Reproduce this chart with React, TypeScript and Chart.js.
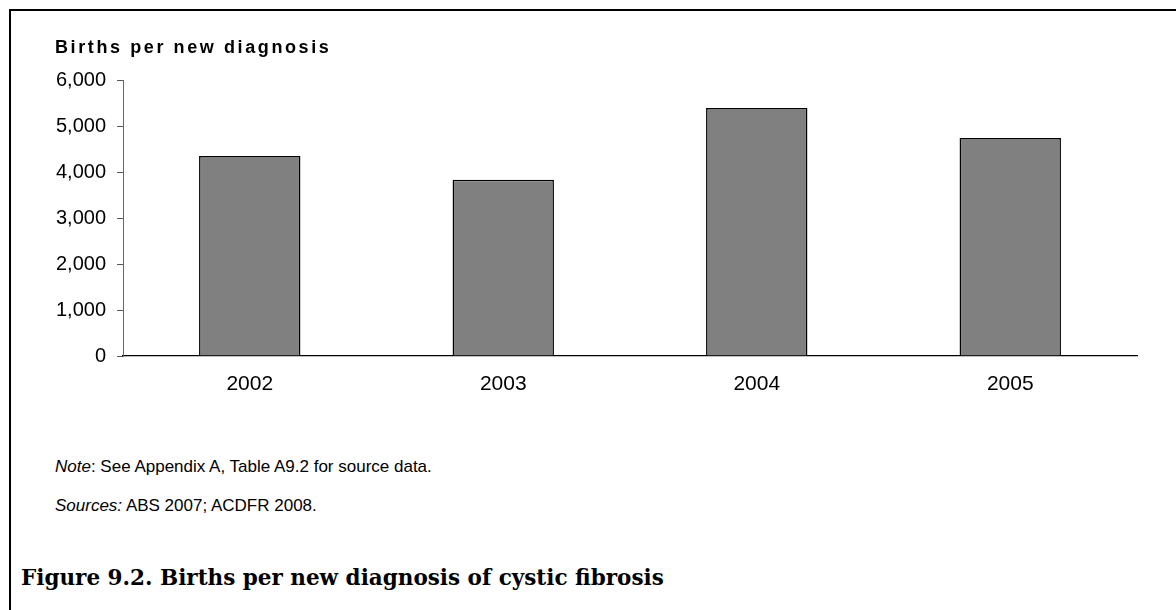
import React, { useEffect, useRef } from "react";
import { Chart, registerables } from "chart.js";

Chart.register(...registerables);

const categories: string[] = ["2002", "2003", "2004", "2005"];
const birthsPerDiagnosis: number[] = [4350, 3830, 5390, 4740];
const yMin = 0;
const yMax = 6000;
const yStep = 1000;

const yTitle = "Births per new diagnosis";
const noteLabel = "Note";
const noteText = ": See Appendix A, Table A9.2 for source data.";
const sourcesLabel = "Sources:";
const sourcesText = " ABS 2007; ACDFR 2008.";
const caption = "Figure 9.2. Births per new diagnosis of cystic fibrosis";

const W = 1176;
const H = 610;
const CANVAS_H = 420;

export default function App() {
  const ref = useRef<HTMLCanvasElement | null>(null);

  useEffect(() => {
    const prevMargin = document.body.style.margin;
    document.body.style.margin = "0";
    if (!ref.current) return;
    const chart = new Chart(ref.current, {
      type: "bar",
      data: {
        labels: categories,
        datasets: [
          {
            data: birthsPerDiagnosis,
            backgroundColor: "#808080",
            borderColor: "#000000",
            borderWidth: 1.5,
            barPercentage: 0.4,
            categoryPercentage: 1.0,
          },
        ],
      },
      options: {
        responsive: false,
        animation: false,
        devicePixelRatio: 1,
        layout: { padding: { left: 0, right: 39, top: 80, bottom: 0 } },
        plugins: {
          legend: { display: false },
          title: { display: false },
          tooltip: { enabled: false },
        },
        scales: {
          x: {
            grid: { display: false, drawTicks: false },
            border: { display: true, color: "#000000", width: 1.2 },
            ticks: {
              color: "#000000",
              padding: 16,
              font: { family: "'Liberation Sans', Arial, sans-serif", size: 21 },
            },
            afterFit: (scale: any) => {
              scale.height = 64;
            },
          },
          y: {
            min: yMin,
            max: yMax,
            grid: {
              display: true,
              drawOnChartArea: false,
              drawTicks: true,
              tickLength: 6,
              color: "#555555",
            },
            border: { display: true, color: "#666666", width: 1 },
            ticks: {
              stepSize: yStep,
              color: "#000000",
              padding: 11,
              font: { family: "'Liberation Sans', Arial, sans-serif", size: 20 },
              callback: (v: any) => Number(v).toLocaleString("en-US"),
            },
            afterFit: (scale: any) => {
              scale.width = 123;
            },
          },
        },
      },
    });
    return () => {
      chart.destroy();
      document.body.style.margin = prevMargin;
    };
  }, []);

  const sans = "'Liberation Sans', Arial, sans-serif";

  return (
    <div
      style={{
        position: "fixed",
        left: 0,
        top: 0,
        width: W,
        height: H,
        overflow: "hidden",
        background: "#ffffff",
      }}
    >
      <div
        style={{
          position: "absolute",
          left: 9,
          top: 9,
          width: W - 9,
          height: 2,
          background: "#000",
        }}
      />
      <div
        style={{
          position: "absolute",
          left: 9,
          top: 9,
          width: 2,
          height: H - 9,
          background: "#000",
        }}
      />
      <canvas
        ref={ref}
        width={W}
        height={CANVAS_H}
        style={{ position: "absolute", left: 0, top: 0, width: W, height: CANVAS_H }}
      />
      <div
        style={{
          position: "absolute",
          left: 55,
          top: 36,
          fontFamily: sans,
          fontWeight: "bold",
          fontSize: 18,
          lineHeight: "22px",
          letterSpacing: "2.6px",
          color: "#000",
          whiteSpace: "nowrap",
        }}
      >
        {yTitle}
      </div>
      <div
        style={{
          position: "absolute",
          left: 55,
          top: 456,
          fontFamily: sans,
          fontSize: 17,
          lineHeight: "22px",
          color: "#000",
          whiteSpace: "nowrap",
        }}
      >
        <i>{noteLabel}</i>
        {noteText}
      </div>
      <div
        style={{
          position: "absolute",
          left: 55,
          top: 495,
          fontFamily: sans,
          fontSize: 17,
          lineHeight: "22px",
          color: "#000",
          whiteSpace: "nowrap",
        }}
      >
        <i>{sourcesLabel}</i>
        {sourcesText}
      </div>
      <div
        style={{
          position: "absolute",
          left: 21,
          top: 564,
          fontFamily: "'DejaVu Serif', 'Liberation Serif', serif",
          fontWeight: "bold",
          fontSize: 21.5,
          lineHeight: "28px",
          color: "#000",
          whiteSpace: "nowrap",
        }}
      >
        {caption}
      </div>
    </div>
  );
}
